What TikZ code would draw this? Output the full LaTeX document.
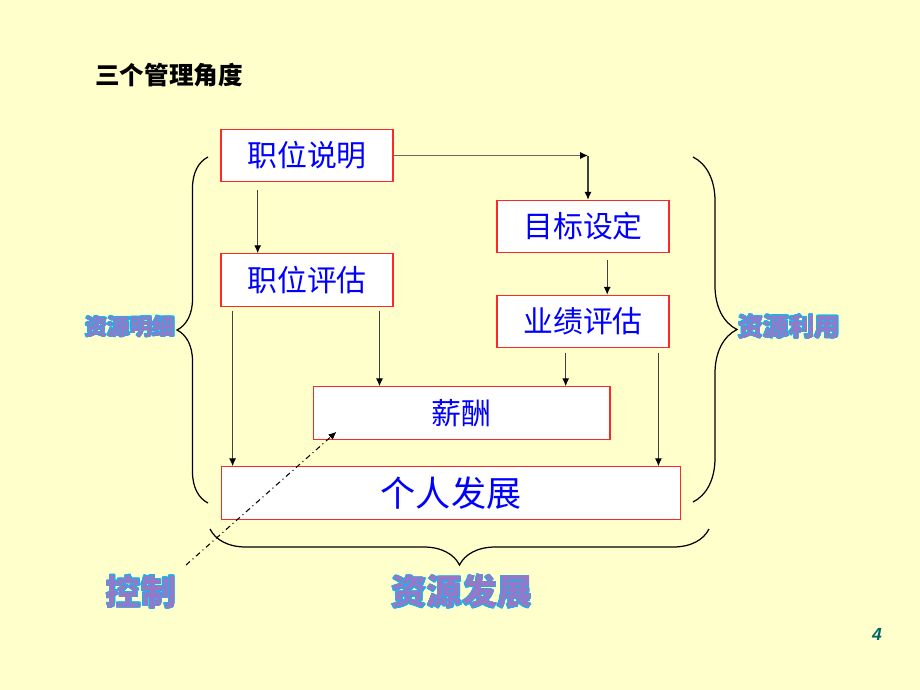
\documentclass[tikz,border=0pt]{standalone}
\usepackage{fontspec}
\newfontfamily\cjk{Noto Sans CJK SC}
\newfontfamily\arialf{Liberation Sans}
\usepackage{contour}
\usetikzlibrary{arrows.meta,decorations.pathreplacing,calc}
\definecolor{bgyellow}{RGB}{255,255,204}
\definecolor{boxred}{RGB}{255,40,40}
\definecolor{txtblue}{RGB}{0,0,255}
\definecolor{lblpurple}{RGB}{150,120,200}
\definecolor{lblcyan}{RGB}{20,180,235}
\definecolor{pgteal}{RGB}{0,102,102}
\contourlength{0.45pt}
\begin{document}
\begin{tikzpicture}
		[x=0.02cm,y=-0.02cm,
		box/.style={draw=boxred,line width=0.6pt,fill=white,inner sep=0pt,minimum height=1.05cm,text=txtblue,font=\cjk\fontsize{17}{20}\selectfont},
		arr/.style={draw=black!75,line width=0.6pt,-{Latex[length=4.5pt,width=4pt,color=black]}},
		brc/.style={draw=black,line width=0.7pt,decorate},
		lbl/.style={text=lblpurple,inner sep=0pt}]
		\fill[bgyellow] (0,0) rectangle (920,690);
		\node[name=title,font=\cjk\bfseries\fontsize{14}{16}\selectfont] at (169,75) {三个管理角度};
		\node[box,name=zwsm,minimum width=3.44cm] at (307,155.5) {职位说明};
		\node[box,name=zwpg,minimum width=3.44cm] at (307,280) {职位评估};
		\node[box,name=mbsd,minimum width=3.44cm] at (583,226.5) {目标设定};
		\node[box,name=yjpg,minimum width=3.44cm] at (583,321.5) {业绩评估};
		\node[box,name=xc,minimum width=5.94cm] at (461.5,413) {薪酬};
		\node[box,name=grfz,minimum width=9.2cm,font=\cjk\fontsize{20}{24}\selectfont] at (451,493) {个人发展};
		\coordinate (turn) at (588,155.5);
		\coordinate (ctrlpt) at (186,565);
		\coordinate (zwpgA) at ($(zwpg.south west)!0.07!(zwpg.south east)$);
		\coordinate (zwpgB) at ($(zwpg.south west)!0.919!(zwpg.south east)$);
		\coordinate (yjpgA) at ($(yjpg.south west)!0.40!(yjpg.south east)$);
		\coordinate (yjpgB) at ($(yjpg.south west)!0.936!(yjpg.south east)$);
		\draw[arr,shorten <=4.5pt] ($(zwsm.south west)!0.215!(zwsm.south east)$) -- ($(zwpg.north west)!0.215!(zwpg.north east)$);
		\draw[arr,draw=black!60] (zwsm.east) -- (zwsm.east -| turn);
		\draw[arr] (turn) -- (turn |- mbsd.north);
		\draw[arr,shorten <=4pt] ($(mbsd.south west)!0.64!(mbsd.south east)$) -- ($(yjpg.north west)!0.64!(yjpg.north east)$);
		\draw[arr,shorten <=2.5pt] (zwpgB) -- (zwpgB |- xc.north);
		\draw[arr,shorten <=2.5pt] (zwpgA) -- (zwpgA |- grfz.north);
		\draw[arr,shorten <=2.5pt] (yjpgA) -- (yjpgA |- xc.north);
		\draw[arr,shorten <=2.5pt] (yjpgB) -- (yjpgB |- grfz.north);
		\draw[line width=0.6pt,dash pattern=on 3pt off 2pt on 0.6pt off 2pt,-{Latex[length=4.5pt,width=4pt]}] (ctrlpt) -- ($(xc.south west)+(24,-8)$);
		% braces
		\draw[brc,decoration={brace,amplitude=0.62cm}] (208,503) -- (208,157);
		\draw[brc,decoration={brace,amplitude=0.88cm}] (693,157) -- (693,502);
		\draw[brc,decoration={brace,amplitude=0.72cm}] (709,529) -- (210,529);
		\node[lbl,name=zymx,font=\cjk\bfseries\fontsize{12.8}{15}\selectfont] at (130,327) {\contour{lblcyan}{资源明细}};
		\node[lbl,name=zyly,font=\cjk\bfseries\fontsize{14.5}{17}\selectfont] at (789,327) {\contour{lblcyan}{资源利用}};
		\node[lbl,name=kz,font=\cjk\bfseries\fontsize{20}{24}\selectfont] at (141,592) {\contour{lblcyan}{控制}};
		\node[lbl,name=zyfz,font=\cjk\bfseries\fontsize{20}{24}\selectfont] at (462,592) {\contour{lblcyan}{资源发展}};
		\node[name=pgno,text=pgteal,font=\arialf\bfseries\itshape\fontsize{10}{12}\selectfont] at (877,634) {4};
	\end{tikzpicture}
\end{document}
